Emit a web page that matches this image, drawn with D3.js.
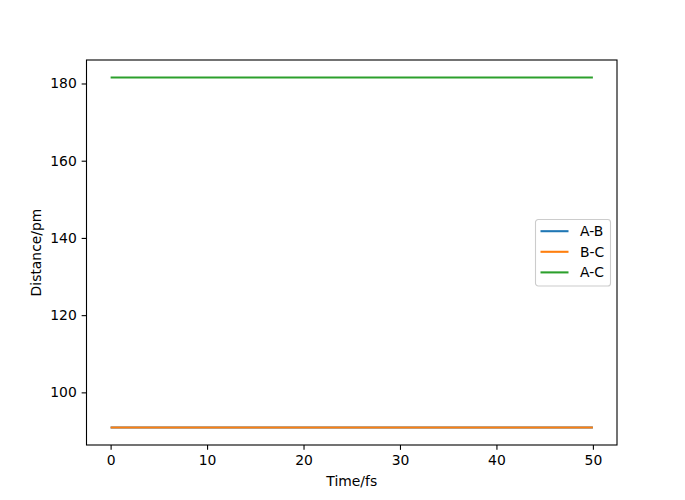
<!DOCTYPE html>
<html>
<head>
<meta charset="utf-8">
<script src="https://cdn.jsdelivr.net/npm/d3@7"></script>
<style>
  body { margin: 0; background: #fff; }
  svg { font-family: "DejaVu Sans", sans-serif; }
</style>
</head>
<body>
<div class="chart"></div>
<script>
// 시간 (fs)
const times = [0, 10, 20, 30, 40, 50];
// 거리 (pm)
const abValues = [90.9, 90.9, 90.9, 90.9, 90.9, 90.9];
const bcValues = [90.9, 90.9, 90.9, 90.9, 90.9, 90.9];
const acValues = [181.55, 181.55, 181.55, 181.55, 181.55, 181.55];
const seriesNames = ['A-B', 'B-C', 'A-C'];
const colors = ['#1f77b4', '#ff7f0e', '#2ca02c'];
const xTicks = [0, 10, 20, 30, 40, 50];
const yTicks = [100, 120, 140, 160, 180];

const width = 685;
const height = 500;
const margin = { left: 86.5, right: 68, top: 60, bottom: 55 };
const fontSize = 13.9;

const series = [abValues, bcValues, acValues].map((vals, i) => ({
	name: seriesNames[i],
	color: colors[i],
	points: vals.map((v, j) => ({ t: times[j], v: v })),
}));

const svg = d3.select('.chart').append('svg').attr('width', width).attr('height', height);

// matplotlib 기본 5% 여백
const allVals = abValues.concat(bcValues, acValues);
const [yMin, yMax] = d3.extent(allVals);
const [xMin, xMax] = d3.extent(times);
const yPad = (yMax - yMin) * 0.05;
const xPad = (xMax - xMin) * 0.05;

const x = d3
	.scaleLinear()
	.domain([xMin - xPad, xMax + xPad])
	.range([margin.left, width - margin.right]);
const y = d3
	.scaleLinear()
	.domain([yMin - yPad, yMax + yPad])
	.range([height - margin.bottom, margin.top]);

const line = d3
	.line()
	.x(d => x(d.t))
	.y(d => y(d.v));

svg
	.selectAll('.series')
	.data(series)
	.enter()
	.append('path')
	.attr('class', 'series')
	.attr('fill', 'none')
	.attr('stroke', d => d.color)
	.attr('stroke-width', 2.08)
	.attr('d', d => line(d.points));

const xAxis = svg
	.append('g')
	.attr('transform', `translate(0,${height - margin.bottom})`)
	.call(d3.axisBottom(x).tickValues(xTicks).tickSize(4.86).tickPadding(4.86).tickSizeOuter(0));
const yAxis = svg
	.append('g')
	.attr('transform', `translate(${margin.left},0)`)
	.call(d3.axisLeft(y).tickValues(yTicks).tickSize(4.86).tickPadding(4.86).tickSizeOuter(0));

[xAxis, yAxis].forEach(g => {
	g.select('.domain').remove();
	g.selectAll('line').attr('stroke', '#000').attr('stroke-width', 1.1);
	g.selectAll('text').attr('fill', '#000').style('font-size', fontSize + 'px').style('font-family', 'DejaVu Sans');
});

// 축 테두리
svg
	.append('rect')
	.attr('x', margin.left)
	.attr('y', margin.top)
	.attr('width', width - margin.right - margin.left)
	.attr('height', height - margin.bottom - margin.top)
	.attr('fill', 'none')
	.attr('stroke', '#000')
	.attr('stroke-width', 1.1);

svg
	.append('text')
	.attr('x', (margin.left + width - margin.right) / 2)
	.attr('y', 486)
	.attr('text-anchor', 'middle')
	.style('font-size', fontSize + 'px')
	.text('Time/fs');

svg
	.append('text')
	.attr('transform', `translate(41,${(margin.top + height - margin.bottom) / 2}) rotate(-90)`)
	.attr('text-anchor', 'middle')
	.style('font-size', fontSize + 'px')
	.text('Distance/pm');

// 범례
const legend = svg.append('g').attr('transform', 'translate(535.5,219.5)');
legend
	.append('rect')
	.attr('width', 75)
	.attr('height', 66.5)
	.attr('rx', 2.8)
	.attr('fill', '#fff')
	.attr('fill-opacity', 0.8)
	.attr('stroke', '#ccc')
	.attr('stroke-width', 1.1);

const items = legend
	.selectAll('.item')
	.data(series)
	.enter()
	.append('g')
	.attr('class', 'item')
	.attr('transform', (d, i) => `translate(0,${11.7 + i * 20.6})`);

items
	.append('line')
	.attr('x1', 5)
	.attr('x2', 33)
	.attr('stroke', d => d.color)
	.attr('stroke-width', 2.08);

items
	.append('text')
	.attr('x', 44.5)
	.attr('dy', '0.35em')
	.style('font-size', fontSize + 'px')
	.text(d => d.name);
</script>
</body>
</html>
